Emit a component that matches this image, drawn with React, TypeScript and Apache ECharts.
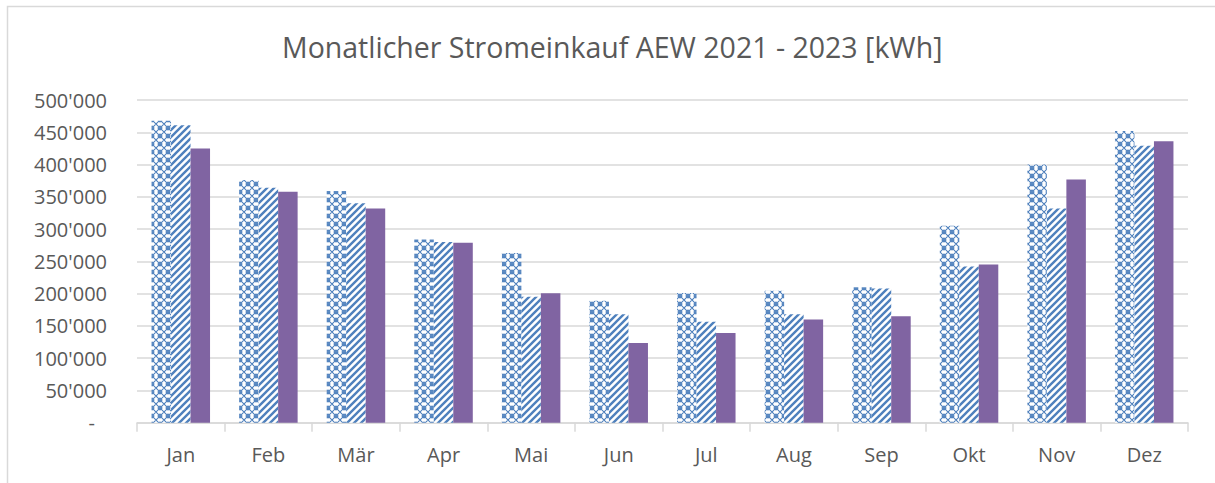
import React, { useEffect, useRef } from "react";
import * as echarts from "echarts";

const titleText = "Monatlicher Stromeinkauf AEW 2021 - 2023 [kWh]";
const months = ["Jan", "Feb", "Mär", "Apr", "Mai", "Jun", "Jul", "Aug", "Sep", "Okt", "Nov", "Dez"];
const seriesNames = ["2021", "2022", "2023"];
const v2021 = [468000, 376000, 359000, 284000, 263000, 189000, 201000, 204500, 210000, 305000, 400000, 452000];
const v2022 = [461000, 364000, 340000, 280000, 195000, 168000, 156500, 168000, 208000, 242000, 332000, 429000];
const v2023 = [425000, 358000, 332000, 279000, 200500, 123500, 139000, 160000, 165000, 245000, 377000, 436000];
const yMax = 500000;
const yStep = 50000;

const BLUE = "#4F81BD";
const PURPLE = "#8064A2";
const GRID = "#d9d9d9";
const TEXT = "#595959";
const FONT = "'Open Sans', sans-serif";

function diamondTile(): HTMLCanvasElement {
  const c = document.createElement("canvas");
  c.width = 8;
  c.height = 8;
  const g = c.getContext("2d")!;
  g.fillStyle = "#ffffff";
  g.fillRect(0, 0, 8, 8);
  g.strokeStyle = BLUE;
  g.lineWidth = 1.1;
  g.beginPath();
  g.moveTo(-1, -1);
  g.lineTo(9, 9);
  g.moveTo(-1, 9);
  g.lineTo(9, -1);
  g.moveTo(3, -1); g.lineTo(-1, 3);
  g.moveTo(5, -1); g.lineTo(9, 3);
  g.moveTo(-1, 5); g.lineTo(3, 9);
  g.moveTo(9, 5); g.lineTo(5, 9);
  g.stroke();
  return c;
}

function stripeTile(): HTMLCanvasElement {
  const c = document.createElement("canvas");
  c.width = 7;
  c.height = 7;
  const g = c.getContext("2d")!;
  g.fillStyle = "#ffffff";
  g.fillRect(0, 0, 7, 7);
  g.strokeStyle = BLUE;
  g.lineWidth = 2.4;
  g.beginPath();
  g.moveTo(-1, 8);
  g.lineTo(8, -1);
  g.moveTo(-5, 5);
  g.lineTo(5, -5);
  g.moveTo(2, 12);
  g.lineTo(12, 2);
  g.stroke();
  return c;
}

function fmt(v: number): string {
  if (v === 0) return "{d|-}";
  return String(v).replace(/\B(?=(\d{3})+(?!\d))/g, "'");
}

export default function App() {
  const ref = useRef<HTMLDivElement>(null);
  useEffect(() => {
    if (!ref.current) return;
    const chart = echarts.init(ref.current, null, { renderer: "svg" });
    const p2021 = { image: diamondTile(), repeat: "repeat" };
    const p2022 = { image: stripeTile(), repeat: "repeat" };
    chart.setOption({
      animation: false,
      backgroundColor: "#ffffff",
      title: {
        text: titleText,
        left: 277,
        top: 27,
        textStyle: { fontFamily: FONT, fontSize: 28.5, fontWeight: "normal", color: TEXT },
      },
      graphic: [
        {
          type: "rect",
          shape: { x: 7.5, y: 6.5, width: 1240, height: 500 },
          style: { fill: "none", stroke: GRID, lineWidth: 1.5 },
          silent: true,
        },
      ],
      grid: { left: 137, right: 27, top: 100, bottom: 60.3 },
      xAxis: {
        type: "category",
        data: months,
        axisLine: { lineStyle: { color: GRID, width: 1.5 } },
        axisTick: { show: true, length: 9, lineStyle: { color: GRID, width: 1.5 } },
        axisLabel: { fontFamily: FONT, fontSize: 20, color: TEXT, margin: 22 },
      },
      yAxis: {
        type: "value",
        min: 0,
        max: yMax,
        interval: yStep,
        axisLine: { show: false },
        axisTick: { show: false },
        splitLine: { lineStyle: { color: GRID, width: 1.5 } },
        axisLabel: {
          fontFamily: FONT,
          fontSize: 20,
          color: TEXT,
          margin: 30,
          formatter: fmt,
          rich: { d: { fontFamily: FONT, fontSize: 20, color: TEXT, padding: [0, 12, 0, 0] } },
        },
      },
      series: [
        { name: seriesNames[0], type: "bar", data: v2021, barWidth: 19.5, barGap: "0%", itemStyle: { color: p2021 } },
        { name: seriesNames[1], type: "bar", data: v2022, barWidth: 19.5, barGap: "0%", itemStyle: { color: p2022 } },
        { name: seriesNames[2], type: "bar", data: v2023, barWidth: 19.5, barGap: "0%", itemStyle: { color: PURPLE } },
      ],
    });
    return () => chart.dispose();
  }, []);
  return (
    <div
      ref={ref}
      style={{ position: "fixed", left: 0, top: 0, width: 1215, height: 483, background: "#fff" }}
    />
  );
}
